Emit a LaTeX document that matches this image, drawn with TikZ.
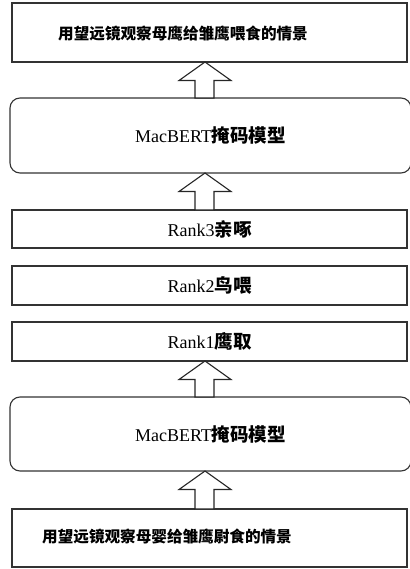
\documentclass[tikz,border=0pt]{standalone}
\usepackage{fontspec}
\setmainfont{Liberation Serif}
\newfontfamily\cjk{Noto Sans CJK SC}
\usetikzlibrary{calc}
\tikzset{
  boxline/.style={draw=black!80, line width=1.1pt, fill=white, inner sep=0pt, outer sep=0pt},
  rectbox/.style={boxline, rectangle, minimum width=395pt},
  roundbox/.style={boxline, rectangle, rounded corners=10pt, minimum width=401pt},
  bigtext/.style={inner sep=0pt, font=\cjk\bfseries\fontsize{15.6}{18}\selectfont},
  blockarrow/.style={draw=black!85, line width=1.1pt, fill=white, line join=miter},
}
\newcommand{\lat}[1]{{\rmfamily\fontsize{18}{21}\selectfont #1}}
\newcommand{\zh}[1]{{\cjk\bfseries\fontsize{18.5}{21}\selectfont #1}}
\newcommand{\uparrowbetween}[2]{%
  \path let \p1=(#1.south), \p2=(#2.north) in
    [blockarrow] (205pt,\y1) -- (231pt,\y1-18.5pt) -- (214pt,\y1-18.5pt) -- (214pt,\y2)
    -- (195pt,\y2) -- (195pt,\y1-18.5pt) -- (179pt,\y1-18.5pt) -- cycle;}
\begin{document}
\begin{tikzpicture}[x=1pt,y=-1pt]
\useasboundingbox (0,0) rectangle (409,569);
\node[rectbox, minimum height=59pt] (b1) at (209.5,32.5) {};
\node[bigtext] (t1) at ($(b1.center)+(-26.5,1.5)$) {用望远镜观察母鹰给雏鹰喂食的情景};
\node[roundbox, minimum height=75pt] (b2) at (210.5,135.5) {\lat{MacBERT}\zh{掩码模型}};
\node[rectbox, minimum height=38pt] (b3) at (209.5,229) {\lat{Rank3}\zh{亲啄}};
\node[rectbox, minimum height=39pt] (b4) at (209.5,285.5) {\lat{Rank2}\zh{鸟喂}};
\node[rectbox, minimum height=39pt] (b5) at (209.5,341.5) {\lat{Rank1}\zh{鹰取}};
\node[roundbox, minimum height=74pt] (b6) at (210.5,434) {\lat{MacBERT}\zh{掩码模型}};
\node[rectbox, minimum height=58pt] (b7) at (209.5,538) {};
\node[bigtext] (t7) at ($(b7.center)+(-42.5,-1.5)$) {用望远镜观察母婴给雏鹰尉食的情景};
\uparrowbetween{b1}{b2}
\uparrowbetween{b2}{b3}
\uparrowbetween{b5}{b6}
\uparrowbetween{b6}{b7}
\end{tikzpicture}
\end{document}
